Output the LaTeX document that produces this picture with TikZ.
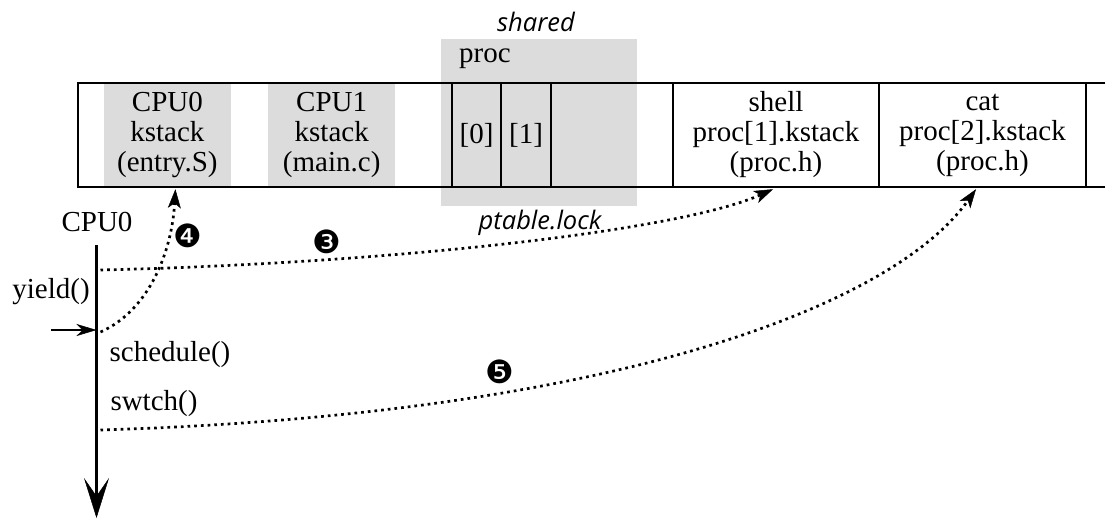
\documentclass[tikz,border=0pt]{standalone}
\usepackage{fontspec}
\setmainfont{Liberation Serif}
\newfontfamily\notefont{Open Sans}
\newfontfamily\dingfont{DejaVu Sans}
\usetikzlibrary{arrows.meta}

\definecolor{shade}{RGB}{220,220,220}

\tikzset{
  txt/.style={font=\fontsize{29}{30}\selectfont, align=center, inner sep=0pt},
  note/.style={font=\notefont\itshape\fontsize{25.5}{28}\selectfont, inner sep=0pt},
  badge/.style={font=\dingfont\fontsize{32}{32}\selectfont, inner sep=0pt},
  graycell/.style={txt, fill=shade, minimum height=104pt, minimum width=126.7pt},
  slot/.style={txt, draw, minimum height=104pt},
  tip/.style={-{Stealth[length=19pt,width=13pt,inset=5pt,line width=0.5pt]}},
  dotline/.style={tip, line width=2.7pt, dash pattern=on 2.7pt off 4.0pt},
}

\begin{document}
\begin{tikzpicture}[x=1pt, y=-1pt, line width=2.4pt]
\useasboundingbox (0,0) rectangle (1105,520);

% shared region behind the process table
\node[fill=shade, minimum width=196pt, minimum height=166.7pt, inner sep=0pt] (sharedbox) at (539,122.3) {};
\node[note] (sharedlbl) at (536,22) {shared};
\node[note] (locklbl) at (540,223) {ptable.lock};
\node[txt] (proclbl) at (485,59) {proc};

% per-CPU kernel stacks
\node[graycell] (cpu0) at (167.4,135) {CPU0\\kstack\\(entry.S)};
\node[graycell] (cpu1) at (331.7,135) {CPU1\\kstack\\(main.c)};

% process table slots
\node[slot, minimum width=49.5pt] (slot0) at (476.5,135) {[0]};
\node[slot, minimum width=49.5pt] (slot1) at (526,135) {[1]};

% process kernel stacks
\node[slot, minimum width=206pt] (shell) at (776,135) {shell\\proc[1].kstack\\(proc.h)};
\node[slot, minimum width=207pt] (cat) at (982.5,135) {cat\\proc[2].kstack\\(proc.h)};

% memory strip outline, open to the right
\draw (1105,83) -| (78,187) -- (1105,187);

% CPU0 time line
\node[txt] (cpulbl) at (97,222) {CPU0};
\coordinate (tstart) at (96.5,245);
\coordinate (tend) at (96.5,518);
\draw[-{Stealth[length=40pt,width=25pt,inset=18pt,line width=0.5pt]}] (tstart) -- (tend);

\node[txt] (yieldlbl) at (51,292) {yield()};
\node[txt] (schedlbl) at (170,355) {schedule()};
\node[txt] (swtchlbl) at (154,404) {swtch()};

\coordinate (entry) at (51,330);
\coordinate (t4) at (96.5,330);
\coordinate (t3) at (96.5,270);
\coordinate (t5) at (96.5,430);
\draw[line width=2pt, -{Stealth[length=20pt,width=12pt,inset=6pt,line width=0.5pt]}] (entry) -- (t4);

% context switches
\draw[dotline] ([xshift=4pt]t3) .. controls (400,263) and (682,230) .. ([xshift=-3pt,yshift=-1pt]shell.south);
\draw[dotline] ([xshift=4pt,yshift=-2pt]t4) .. controls (150,310) and (172,250) .. ([xshift=8pt,yshift=-1pt]cpu0.south);
\draw[dotline] ([xshift=4pt]t5) .. controls (600,415) and (890,310) .. ([xshift=-6.5pt,yshift=-1pt]cat.south);

\node[badge] (b3) at (327,242) {❸};
\node[badge] (b4) at (188,236) {❹};
\node[badge] (b5) at (500,372) {❺};
\end{tikzpicture}
\end{document}
